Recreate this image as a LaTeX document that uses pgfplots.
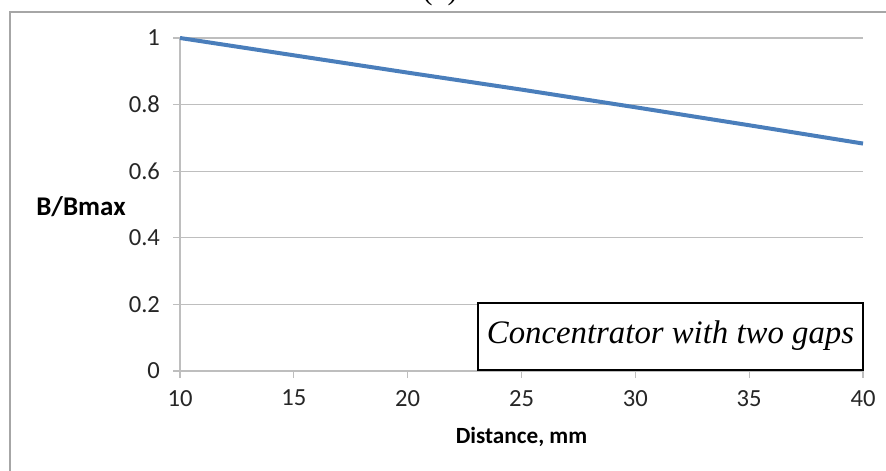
\documentclass[border=0pt]{standalone}
\usepackage{fontspec}
\setmainfont{Carlito}
\newfontfamily\tnr{Liberation Serif}
\usepackage{pgfplots}
\pgfplotsset{compat=1.18}
\definecolor{xlblue}{HTML}{4A7EBB}
\definecolor{xlgrid}{HTML}{BEBEBE}
\definecolor{xlframe}{HTML}{A6A6A6}
\definecolor{xltext}{HTML}{262626}
\begin{document}
\begin{tikzpicture}[x=1pt,y=1pt]
\begin{axis}[
  at={(90pt,49.5pt)}, anchor=south west,
  scale only axis, width=341.5pt, height=166.5pt,
  xmin=10, xmax=40, ymin=0, ymax=1,
  xtick={10,15,20,25,30,35,40},
  ytick={0,0.2,0.4,0.6,0.8,1},
  yticklabels={0,0.2,0.4,0.6,0.8,1},
  axis x line*=bottom, axis y line*=left,
  axis line style={xlgrid, line width=0.6pt},
  ymajorgrids, grid style={xlgrid, line width=0.6pt},
  major tick style={xlgrid, line width=0.6pt},
  tick align=outside, major tick length=3.5pt,
  tick label style={font=\fontsize{12.3}{14}\selectfont, text=xltext},
  /pgf/number format/assume math mode=true,
  xticklabel style={yshift=-2.5pt},
  yticklabel style={xshift=-3pt},
  clip=false,
]
\addplot[xlblue, line width=2pt] coordinates {
  (10,1.000) (15,0.948) (20,0.896) (25,0.845) (30,0.792) (35,0.738) (40,0.683)
};
\end{axis}
\node[font=\bfseries\fontsize{13.5}{15}\selectfont, text=black] at (40.5pt,131.5pt) {B/Bmax};
\node[font=\bfseries\fontsize{11.6}{14}\selectfont, text=black] at (260.75pt,16.5pt) {Distance, mm};
\draw[xlframe, line width=0.75pt] (5pt,-5pt) -- (5pt,229pt) -- (450pt,229pt);
\node[font=\tnr\fontsize{15}{18}\selectfont, anchor=base] at (220pt,235pt) {(b)};
\draw[black, line width=1.2pt, fill=white] (239pt,50pt) rectangle (431.5pt,83.5pt);
\node[font=\tnr\itshape\fontsize{16.4}{19}\selectfont] at (335.25pt,67pt) {Concentrator with two gaps};
\pgfresetboundingbox
\useasboundingbox (0,0) rectangle (443pt,235pt);
\end{tikzpicture}
\end{document}
